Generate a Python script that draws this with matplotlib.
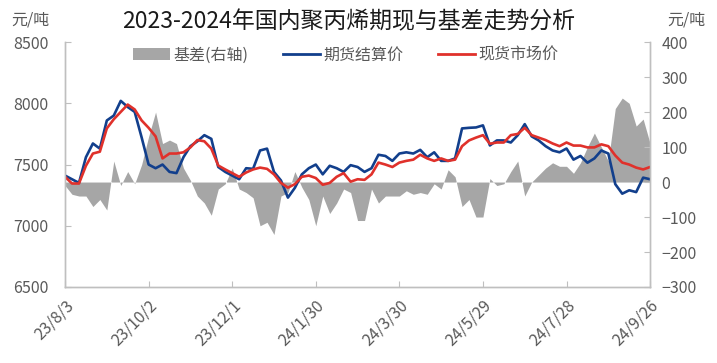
import matplotlib
matplotlib.use("Agg")
import matplotlib.pyplot as plt
from matplotlib.patches import Patch
from matplotlib.lines import Line2D
import pandas as pd

plt.rcParams['font.family'] = ['Noto Sans CJK SC', 'DejaVu Sans']

# sampled every 5 days, 2023-08-03 .. 2024-09-26
dates = pd.date_range("2023-08-03", "2024-09-26", freq="5D")

futures = [7410, 7380, 7350, 7560, 7672, 7630, 7860, 7900, 8020, 7970,
           7930, 7721, 7500, 7470, 7500, 7440, 7430, 7560, 7650, 7690,
           7740, 7710, 7480, 7440, 7410, 7380, 7470, 7465, 7615, 7630,
           7440, 7370, 7230, 7310, 7420, 7470, 7500, 7420, 7490, 7470,
           7440, 7495, 7480, 7440, 7470, 7580, 7570, 7530, 7590, 7600,
           7590, 7620, 7560, 7600, 7530, 7530, 7550, 7795, 7800, 7803,
           7820, 7656, 7697, 7697, 7680, 7740, 7830, 7730, 7697, 7650,
           7615, 7600, 7631, 7540, 7570, 7515, 7550, 7615, 7590, 7340,
           7262, 7290, 7275, 7393, 7380]

spot = [7400, 7345, 7345, 7490, 7590, 7605, 7795, 7870, 7930, 7990,
        7950, 7860, 7800, 7730, 7550, 7590, 7590, 7600, 7640, 7700,
        7690, 7630, 7492, 7460, 7430, 7400, 7435, 7460, 7475, 7465,
        7420, 7350, 7311, 7340, 7400, 7410, 7390, 7335, 7350, 7400,
        7430, 7360, 7380, 7375, 7420, 7516, 7500, 7480, 7516, 7530,
        7540, 7580, 7550, 7530, 7550, 7530, 7540, 7650, 7697, 7720,
        7740, 7670, 7680, 7680, 7740, 7750, 7800, 7740, 7720, 7700,
        7672, 7650, 7680, 7655, 7655, 7640, 7640, 7665, 7650, 7574,
        7516, 7500, 7475, 7460, 7480]

basis = [-10, -35, -40, -40, -70, -50, -80, 60, -10, 30,
         -5, 50, 130, 200, 110, 120, 110, 40, 5, -40,
         -60, -95, -20, -5, 40, -20, -30, -45, -125, -115,
         -150, -40, -30, 30, -15, -50, -125, -40, -90, -60,
         -20, -30, -110, -110, -20, -60, -40, -40, -40, -25,
         -35, -30, -35, -5, -20, 35, 15, -70, -50, -100,
         -100, 10, -10, -5, 30, 60, -40, 0, 20, 40,
         55, 45, 45, 25, 55, 100, 140, 100, 60, 210,
         240, 225, 160, 180, 110]

fig = plt.figure(figsize=(7.17, 3.63), dpi=100)
ax = fig.add_axes([0.0907, 0.2094, 0.816, 0.6746])
ax2 = ax.twinx()

gray_txt = '#595959'
spine_c = '#bfbfbf'
fs = 11.5

ax2.fill_between(dates, basis, 0, color='#a6a6a6', linewidth=0)
ax.plot(dates, futures, color='#123f8c', lw=1.9)
ax.plot(dates, spot, color='#e0312b', lw=1.9)

# lines above the basis area
ax.set_zorder(ax2.get_zorder() + 1)
ax.patch.set_visible(False)

ax.set_xlim(dates[0], dates[-1])
ax.set_ylim(6500, 8500)
ax.set_yticks(range(6500, 8501, 500))
ax2.set_ylim(-300, 400)
ax2.set_yticks(range(-300, 401, 100))

xt = pd.date_range("2023-08-03", "2024-09-26", freq="60D")
ax.set_xticks(xt)
ax.set_xticklabels([f"{d.year % 100}/{d.month}/{d.day}" for d in xt],
                   rotation=45, ha='right', rotation_mode='anchor')

for a in (ax, ax2):
    a.spines['top'].set_visible(False)
    for s in ('left', 'right', 'bottom'):
        a.spines[s].set_color(spine_c)
        a.spines[s].set_linewidth(1.0)
    a.tick_params(axis='both', direction='in', colors=spine_c,
                  labelcolor=gray_txt, labelsize=fs, length=4)
ax.tick_params(axis='x', pad=7)
ax.tick_params(axis='y', pad=12)
ax2.tick_params(axis='y', pad=8)

fig.text(0.042, 0.945, "元/吨", color=gray_txt, fontsize=fs, ha='center', va='center')
fig.text(0.957, 0.945, "元/吨", color=gray_txt, fontsize=fs, ha='center', va='center')
fig.text(0.486, 0.94, "2023-2024年国内聚丙烯期现与基差走势分析", fontsize=16.5,
         color='#1a1a1a', ha='center', va='center')

handles = [Patch(facecolor='#a6a6a6', edgecolor='none'),
           Line2D([], [], color='#123f8c', lw=2),
           Line2D([], [], color='#e0312b', lw=2)]
ax.legend(handles, ["基差(右轴)", "期货结算价", "现货市场价"], ncol=3,
          loc='center', bbox_to_anchor=(0.48, 0.947), frameon=False,
          fontsize=fs, labelcolor=gray_txt, handlelength=2.3,
          columnspacing=2.2, handletextpad=0.2)

fig.savefig("out.png", dpi=100)
